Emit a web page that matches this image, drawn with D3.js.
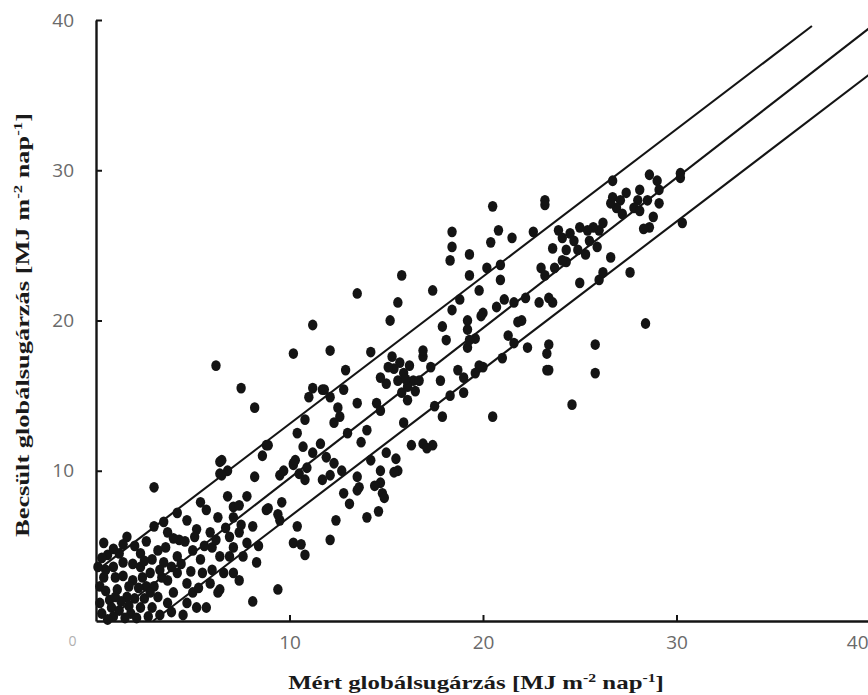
<!DOCTYPE html>
<html>
<head>
<meta charset="utf-8">
<script src="https://cdn.jsdelivr.net/npm/d3@7"></script>
<style>
  html, body { margin: 0; padding: 0; background: #fff; }
  svg { display: block; }
</style>
</head>
<body>
<svg id="chart" width="868" height="695"></svg>
<script>
// Axis ticks (MJ m-2 nap-1)
const xTicks = [0, 10, 20, 30, 40];
const yTicks = [10, 20, 30, 40];

// Reference lines (1:1 line and the two band limits), given by end points
const bandNames = ["upper", "middle", "lower"];
const bandX0 = [0, 0.5, 2.95];
const bandY0 = [3.3, 0, 0];
const bandX1 = [37.0, 40.5, 40.5];
const bandY1 = [39.6, 40.0, 36.9];

// Daily global radiation: [measured, estimated]
const dailyPairs = [
  // low-radiation days
  [3.0,8.9],[6.4,10.6],[6.4,9.8],[8.2,9.6],[8.8,11.7],[10.2,10.4],[9.5,9.7],[7.1,7.6],[7.8,8.3],
  [8.8,7.4],[9.5,6.7],[10.2,5.2],[8.3,3.9],[9.4,2.1],[8.1,1.3],[6.4,2.1],[7.4,2.7],[6.9,4.3],
  [6.0,4.9],[5.4,4.1],[5.2,6.1],[5.9,5.9],[6.9,5.6],[4.7,6.7],[4.2,7.2],[4.3,5.4],[3.7,5.9],
  [3.2,4.7],[3.5,3.9],[4.2,3.2],[4.7,2.5],[4.0,1.9],[4.7,1.2],[5.2,0.9],[2.9,0.9],[2.6,2.3],
  [2.3,3.6],[1.9,2.7],[1.6,5.6],[1.2,4.5],[0.4,5.2],[0.9,3.6],[0.4,2.9],[0.2,2.3],[0.7,1.4],
  [1.2,0.7],[1.8,0.5],[2.3,0.9],[1.6,1.6],[1.1,2.1],[2.3,4.5],[2.8,3.2],[3.2,1.6],[3.7,1.2],
  [3.7,2.7],[4.2,4.3],[5.0,4.7],[5.5,3.2],[6.0,3.4],[6.4,4.3],[7.1,4.9],[7.4,5.9],[6.3,6.9],
  [5.7,7.4],[5.4,7.9],[6.8,8.3],[7.1,6.9],[8.1,6.3],[7.8,5.2],[7.1,3.2],[6.3,1.9],[5.0,1.9],
  [5.7,0.9],[0.3,0.5],[0.5,3.4],[0.8,0.9],[1.0,2.9],[1.4,3.0],[1.5,0.2],[2.0,1.5],[2.1,0.2],
  [2.5,1.5],[2.7,0.3],[3.0,2.3],[3.3,0.4],[0.2,1.2],[0.6,4.4],[1.9,3.8],[2.6,5.3],[3.4,2.9],
  [1.3,1.3],[0.9,0.3],[2.2,2.2],[3.9,0.6],[4.4,3.8],[3.0,6.3],[2.0,5.0],[0.1,3.6],
  [0.5,2.0],[0.9,4.8],[1.4,3.9],[1.7,2.3],[2.4,2.9],[2.9,4.1],[3.3,3.4],[3.6,4.9],[4.0,5.5],
  [4.6,5.3],[5.1,5.6],[5.6,5.0],[5.9,2.5],[6.6,3.2],[6.7,6.2],[7.6,4.3],[8.4,5.0],[3.5,6.6],
  [2.5,4.0],[1.0,1.6],[0.3,4.2],[1.7,1.0],[2.8,1.9],[3.9,3.6],[4.9,3.3],[5.3,2.2],[6.2,5.4],
  [0.6,0.1],[1.4,5.1],[4.5,0.4],
  // medium days
  [8.2,14.2],[10.4,12.5],[15.6,21.2],[15.2,20.0],[11.2,19.7],[10.2,17.8],[12.1,18.0],[14.2,17.9],
  [12.9,16.7],[18.4,20.7],[17.9,19.6],[18.1,18.7],[19.2,20.0],[20.0,20.5],[20.7,20.9],[21.6,21.2],
  [22.9,21.2],[23.6,21.2],[19.2,18.2],[18.7,16.7],[20.0,16.9],[17.8,16.0],[17.3,16.9],[16.9,17.6],
  [16.4,16.0],[16.1,15.6],[15.9,16.5],[15.6,16.0],[15.3,17.6],[15.7,17.2],[16.1,14.7],[15.0,15.8],
  [14.7,16.2],[14.5,14.5],[13.5,14.5],[14.7,14.0],[14.0,12.7],[12.6,13.6],[12.8,15.4],[11.7,15.4],
  [12.1,14.9],[11.0,14.9],[12.5,14.2],[13.0,12.5],[12.3,13.2],[11.6,11.8],[10.7,11.6],[11.9,10.9],
  [11.2,11.2],[12.3,10.5],[10.2,10.5],[10.9,10.2],[10.5,9.8],[9.7,10.0],[11.7,9.4],[12.8,8.5],
  [13.5,9.6],[14.2,10.7],[13.6,8.9],[14.7,9.2],[15.0,11.2],[15.6,10.0],[14.8,8.5],[15.9,13.2],
  [16.9,11.8],[17.9,13.6],[19.0,15.2],[20.5,13.6],[19.8,17.0],[21.6,18.5],[23.3,17.8],[23.3,16.7],
  [24.6,14.4],[19.2,19.4],[15.4,16.8],[16.2,17.0],[15.8,15.2],[16.5,15.3],[15.1,16.9],[16.0,16.1],
  [11.8,15.4],[11.2,15.5],[10.8,13.4],[10.3,10.7],[9.6,7.9],[9.4,7.1],[8.9,7.5],[10.8,9.4],
  [12.1,9.7],[12.7,10.0],[10.4,6.3],[10.6,5.1],[10.8,4.4],[12.4,6.7],[12.1,5.4],[14.0,6.9],
  [13.1,7.8],[13.5,8.7],[14.4,9.0],[14.7,10.0],[14.9,8.2],[14.6,7.3],[15.4,9.9],[16.3,11.7],
  [15.5,10.8],[13.7,11.9],[7.5,15.5],[6.2,17.0],[8.9,11.7],[8.6,11.0],[6.8,10.0],[6.5,10.7],
  [6.5,9.7],[7.4,7.7],[7.5,6.4],[17.5,14.3],[18.3,15.0],[19.6,16.5],[21.0,17.5],[22.3,18.2],
  [21.3,19.0],[22.0,20.0],[17.4,11.7],[17.1,11.5],[16.9,18.0],[16.7,16.0],
  // high-radiation days
  [20.5,27.6],[20.8,26.0],[20.4,25.2],[21.5,25.5],[22.6,25.9],[23.2,27.7],[23.2,28.0],[23.9,26.0],
  [23.6,24.8],[23.0,23.5],[23.2,23.0],[23.4,21.5],[22.2,21.5],[23.7,23.5],[24.3,23.9],[25.3,24.4],
  [25.5,25.3],[26.0,26.0],[19.3,24.4],[18.4,25.9],[18.4,24.9],[18.3,24.0],[19.3,23.0],[20.2,23.5],
  [20.9,23.7],[20.9,22.7],[19.8,22.0],[18.8,21.4],[21.1,21.4],[19.9,20.3],[21.8,19.9],[19.6,18.8],
  [19.3,18.7],[19.0,16.2],[17.4,22.0],[15.8,23.0],[13.5,21.8],
  [26.7,29.3],[28.6,29.7],[29.0,29.3],[30.2,29.5],[26.7,28.2],[27.1,28.0],[27.4,28.5],[28.1,28.7],
  [28.0,28.0],[28.5,28.0],[29.1,28.7],[29.1,27.8],[27.8,27.5],[26.9,27.5],[26.6,27.8],[27.2,27.1],
  [28.1,27.3],[28.8,26.9],[28.6,26.2],[28.3,26.1],[26.2,26.5],[25.7,26.2],[25.4,26.0],[25.0,26.2],
  [24.5,25.8],[24.1,25.5],[24.7,25.3],[24.3,24.7],[24.9,24.7],[24.1,24.0],[25.9,24.9],[26.6,24.2],
  [25.0,22.5],[26.0,22.7],[26.2,23.2],[27.6,23.2],[30.3,26.5],[30.2,29.8],
  // days far from the 1:1 line
  [25.8,18.4],[25.8,16.5],[23.4,18.4],[23.4,16.7],[28.4,19.8]
];

const svg = d3.select("#chart");
const x = d3.scaleLinear().domain([0, 40]).range([96, 870]);
const y = d3.scaleLinear().domain([0, 40]).range([621, 20]);
const ink = "#141414";

// reference lines
svg.append("g").selectAll("line").data(bandNames).join("line")
  .attr("x1", (d, i) => x(bandX0[i])).attr("y1", (d, i) => y(bandY0[i]))
  .attr("x2", (d, i) => x(bandX1[i])).attr("y2", (d, i) => y(bandY1[i]))
  .attr("stroke", ink).attr("stroke-width", 2.1);

// daily points
svg.append("g").selectAll("ellipse").data(dailyPairs).join("ellipse")
  .attr("cx", d => x(d[0])).attr("cy", d => y(d[1]))
  .attr("rx", 4.7).attr("ry", 5.4).attr("fill", ink);

// axes
const tickFont = "'Open Sans', 'DejaVu Sans', sans-serif";
const gx = svg.append("g").attr("transform", `translate(0,${y(0)})`)
  .call(d3.axisBottom(x).tickValues(xTicks).tickSizeInner(-6).tickSizeOuter(0)
    .tickPadding(15).tickFormat(d3.format("d")));
const gy = svg.append("g").attr("transform", `translate(${x(0)},0)`)
  .call(d3.axisLeft(y).tickValues(yTicks).tickSizeInner(-6).tickSizeOuter(0)
    .tickPadding(22).tickFormat(d3.format("d")));

[gx, gy].forEach(g => {
  g.select(".domain").attr("stroke", ink).attr("stroke-width", 2.4);
  g.selectAll(".tick line").attr("stroke", ink).attr("stroke-width", 2);
  g.selectAll(".tick text").attr("fill", "#6a6a6a")
    .attr("font-family", tickFont).attr("font-size", 19);
});
// the origin label sits left of the corner, faint
gx.selectAll(".tick").filter(d => d === 0).each(function () {
  d3.select(this).select("line").remove();
  d3.select(this).select("text").attr("x", -24).attr("fill", "#b0b0b0").attr("font-size", 14);
});
// the last label is held inside the right edge
gx.selectAll(".tick").filter(d => d === 40).select("text")
  .attr("text-anchor", "end").attr("x", 868 - x(40));

// axis titles (bold serif, with superscripts)
function title(g, lead) {
  const t = g.append("text").attr("font-family", "'Liberation Serif', 'DejaVu Serif', serif")
    .attr("font-weight", "bold").attr("font-size", 19).attr("fill", "#1a1a1a")
    .attr("text-anchor", "middle");
  t.append("tspan").text(lead + " globálsugárzás [MJ m");
  t.append("tspan").attr("font-size", 12).attr("dy", -7).text("-2");
  t.append("tspan").attr("dy", 7).text(" nap");
  t.append("tspan").attr("font-size", 12).attr("dy", -7).text("-1");
  t.append("tspan").attr("dy", 7).text("]");
  return t;
}
function fit(t, len, tx, ty, rot) {
  const w = t.node().getComputedTextLength();
  t.attr("transform", `translate(${tx},${ty}) rotate(${rot}) scale(${len / w},1)`);
}
fit(title(svg.append("g"), "Mért"), 376, 476, 689, 0);
fit(title(svg.append("g"), "Becsült"), 424, 29, 325, -90);
</script>
</body>
</html>
